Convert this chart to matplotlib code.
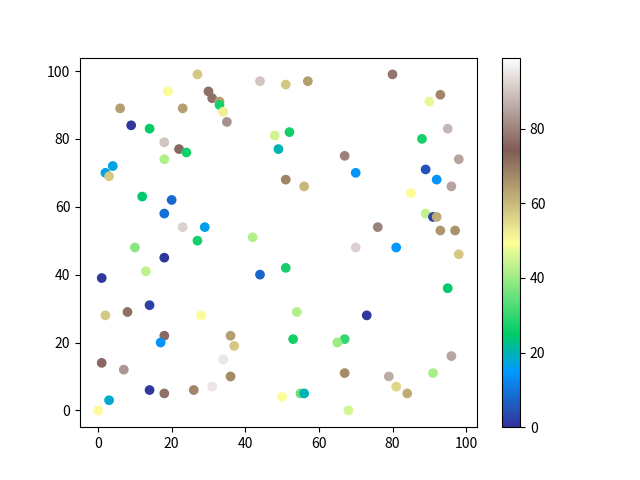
import numpy as np
import matplotlib
matplotlib.use('Agg')
import matplotlib.pyplot as plt

plt.rcParams['font.family'] = ['Noto Sans CJK SC', 'DejaVu Sans']

# point positions and colour values
x = [0, 3, 1, 2, 1, 7, 8, 14, 14, 18, 18, 17, 18, 13, 10, 12, 18, 20, 23, 29,
     27, 28, 26, 31, 34, 36, 37, 36, 2, 3, 4, 6, 9, 14, 12, 18, 18, 22, 24, 19,
     23, 27, 30, 31, 33, 33, 34, 35, 44, 51, 57, 48, 52, 49, 51, 56, 80, 93, 90, 95,
     88, 67, 98, 70, 89, 92, 96, 85, 89, 91, 92, 93, 97, 76, 70, 81, 98, 88, 95, 44,
     51, 42, 73, 67, 65, 67, 68, 79, 81, 84, 91, 96, 54, 53, 50, 55, 56]
y = [0, 3, 14, 28, 39, 12, 29, 6, 31, 5, 22, 20, 45, 41, 48, 63, 58, 62, 54, 54,
     50, 28, 6, 7, 15, 22, 19, 10, 70, 69, 72, 89, 84, 83, 81, 79, 74, 77, 76, 94,
     89, 99, 94, 92, 91, 90, 88, 85, 97, 96, 97, 81, 82, 77, 68, 66, 99, 93, 91, 83,
     80, 75, 74, 70, 71, 68, 66, 64, 58, 57, 57, 53, 53, 54, 48, 48, 46, 40, 36, 40,
     42, 51, 28, 21, 20, 11, 0, 10, 7, 5, 11, 16, 29, 21, 4, 5, 5]
c = [50, 18, 76, 58, 1, 83, 77, 1, 2, 77, 76, 14, 1, 43, 38, 24, 9, 8, 92, 16,
     27, 50, 68, 95, 95, 64, 58, 67, 17, 58, 17, 64, 1, 25, 99, 90, 42, 76, 27, 50,
     64, 58, 77, 77, 64, 27, 52, 82, 90, 58, 64, 45, 27, 20, 68, 60, 78, 68, 47, 88,
     27, 80, 85, 14, 5, 14, 85, 50, 43, 2, 62, 65, 66, 80, 92, 15, 58, 99, 24, 7,
     27, 42, 1, 30, 40, 67, 45, 86, 56, 62, 41, 85, 42, 27, 50, 35, 20]

fig, ax = plt.subplots(figsize=(6.4, 4.8), dpi=100)
sc = ax.scatter(x, y, c=c, cmap='terrain', vmin=0, vmax=99)
fig.colorbar(sc, ax=ax)
fig.savefig('out.png')
